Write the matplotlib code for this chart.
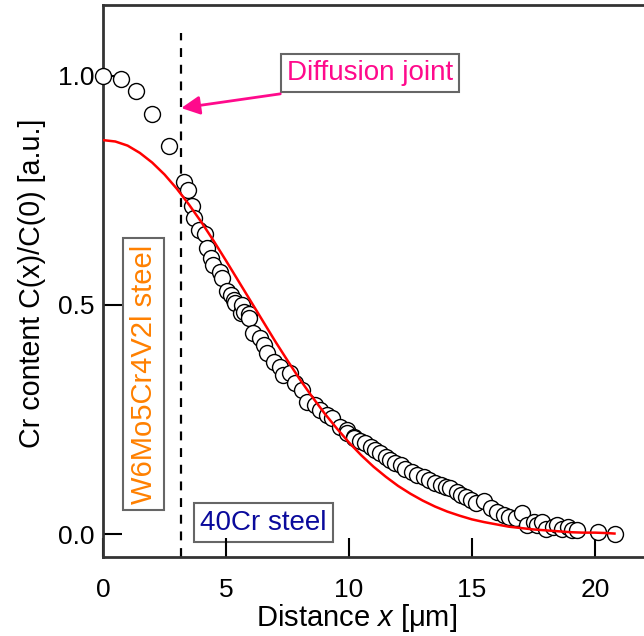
import numpy as np
import matplotlib
matplotlib.use('Agg')
import matplotlib.pyplot as plt

plt.rcParams['font.family'] = ['Liberation Sans', 'DejaVu Sans']
plt.rcParams['mathtext.fontset'] = 'custom'
plt.rcParams['mathtext.rm'] = 'Liberation Sans'
plt.rcParams['mathtext.it'] = 'Liberation Sans:italic'

# measured Cr content (open circles)
x_meas = [0.0, 0.72, 1.33, 2.01, 2.70, 3.31, 3.47, 3.61, 3.72, 3.92, 4.13, 4.22,
          4.40, 4.49, 4.74, 4.83, 5.04, 5.21, 5.31, 5.38, 5.62, 5.65, 5.72, 5.92,
          5.92, 6.12, 6.40, 6.53, 6.67, 6.94, 7.21, 7.34, 7.62, 7.82, 8.09, 8.30,
          8.64, 8.84, 9.11, 9.32, 9.65, 9.93, 9.93, 10.2, 10.2, 10.47, 10.67, 10.88,
          11.08, 11.28, 11.49, 11.69, 11.89, 12.10, 12.30, 12.57, 12.78, 13.05, 13.25,
          13.52, 13.73, 13.93, 14.13, 14.41, 14.54, 14.75, 14.95, 15.15, 15.49, 15.76,
          16.04, 16.31, 16.51, 16.78, 17.05, 17.26, 17.53, 17.66, 17.87, 18.00, 18.28,
          18.48, 18.68, 18.89, 19.09, 19.29, 20.11, 20.82]
y_meas = [1.0, 0.993, 0.967, 0.917, 0.848, 0.768, 0.751, 0.717, 0.689, 0.664, 0.655, 0.624,
          0.603, 0.587, 0.571, 0.558, 0.531, 0.522, 0.511, 0.505, 0.482, 0.500, 0.485, 0.480,
          0.471, 0.438, 0.427, 0.413, 0.395, 0.376, 0.365, 0.347, 0.351, 0.329, 0.314, 0.289,
          0.282, 0.271, 0.260, 0.253, 0.234, 0.227, 0.220, 0.212, 0.209, 0.202, 0.198, 0.191,
          0.183, 0.176, 0.169, 0.162, 0.154, 0.151, 0.143, 0.136, 0.129, 0.125, 0.118,
          0.111, 0.107, 0.103, 0.100, 0.092, 0.085, 0.081, 0.074, 0.067, 0.071, 0.056,
          0.049, 0.041, 0.038, 0.034, 0.045, 0.020, 0.027, 0.020, 0.027, 0.012, 0.016,
          0.020, 0.012, 0.016, 0.009, 0.009, 0.005, 0.0]

# fitted curve (red)
x_fit = [0.0, 0.5, 1.0, 1.5, 2.0, 2.5, 3.0, 3.5, 4.0, 4.5, 5.0, 5.5, 6.0, 6.5, 7.0,
         7.5, 8.0, 8.5, 9.0, 9.5, 10.0, 10.5, 11.0, 11.5, 12.0, 12.5, 13.0, 13.5,
         14.0, 14.5, 15.0, 15.5, 16.0, 16.5, 17.0, 17.5, 18.0, 18.5, 19.0, 19.5,
         20.0, 20.5, 20.8]
y_fit = [0.860, 0.857, 0.848, 0.832, 0.811, 0.785, 0.754, 0.719, 0.681, 0.640, 0.597,
         0.553, 0.509, 0.465, 0.421, 0.379, 0.338, 0.300, 0.264, 0.231, 0.200, 0.172,
         0.147, 0.125, 0.105, 0.088, 0.073, 0.060, 0.049, 0.040, 0.032, 0.026, 0.021,
         0.016, 0.013, 0.010, 0.008, 0.006, 0.004, 0.003, 0.003, 0.002, 0.001]

joint_x = 3.18

fig = plt.figure(figsize=(6.44, 6.36), dpi=100)
ax = fig.add_axes([103 / 644, 79 / 636, 541 / 644, 552 / 636])

ax.scatter(x_meas, y_meas, s=132, facecolors='white', edgecolors='black',
           linewidths=1.0, zorder=3, clip_on=False)
ax.plot(x_fit, y_fit, color='#ff0000', lw=1.8, zorder=4)
ax.plot([joint_x, joint_x], [-0.05, 1.094], color='black', lw=1.6,
        ls=(0, (4, 3.5)), zorder=2)

ax.set_xlim(0, 22.0)
ax.set_ylim(-0.0502, 1.155)
ax.set_xticks([0, 5, 10, 15, 20])
ax.set_yticks([0.0, 0.5, 1.0])
ax.set_yticklabels(['0.0', '0.5', '1.0'])
ax.tick_params(direction='in', length=14, width=1.5, labelsize=19,
               colors='black')
ax.tick_params(axis='x', pad=15)
ax.tick_params(axis='y', pad=6)
ax.spines['right'].set_visible(False)
for s in ['left', 'bottom', 'top']:
    ax.spines[s].set_linewidth(2)
    ax.spines[s].set_color('#333333')

ax.set_xlabel(r'Distance $\mathit{x}$ [μm]', fontsize=21)
ax.set_ylabel('Cr content C(x)/C(0) [a.u.]', fontsize=20.6)
ax.xaxis.set_label_coords(0.4695, -0.0815)
ax.yaxis.set_label_coords(-0.105, 0.496)

box = dict(boxstyle='square,pad=0.22', fc='white', ec='#666666', lw=1.5)
ax.text(10.86, 1.007, 'Diffusion joint', color='#ff0a8c', fontsize=20,
        ha='center', va='center', bbox=box, zorder=5)
ax.text(1.65, 0.349, 'W6Mo5Cr4V2l steel', color='#ff8000', fontsize=21,
        rotation=90, ha='center', va='center', bbox=box, zorder=5)
ax.text(6.52, 0.025, '40Cr steel', color='#0a0a9c', fontsize=20,
        ha='center', va='center', bbox=box, zorder=1)

ax.annotate('', xy=(joint_x, 0.930), xytext=(7.21, 0.961),
            arrowprops=dict(arrowstyle='-|>', color='#ff0a8c', lw=2,
                            mutation_scale=28, shrinkA=0, shrinkB=0),
            zorder=5)

plt.savefig('out.png', dpi=100)
